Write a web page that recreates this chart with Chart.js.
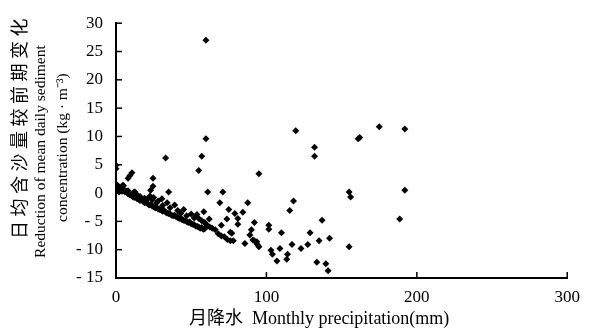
<!DOCTYPE html>
<html lang="zh">
<head>
    <meta charset="UTF-8">
    <title>Monthly precipitation vs sediment concentration</title>
    <script src="https://cdn.jsdelivr.net/npm/chart.js"></script>
    <style>
        body { margin: 0; padding: 0; background: #fff; }
        canvas { display: block; }
    </style>
</head>
<body>
    <canvas id="scatter" width="589" height="332"></canvas>
    <script>
        // monthly precipitation (mm) and reduction of mean daily sediment concentration (kg/m3)
        const precipitation = [
            0, 0.5, 1, 1.5, 2, 2.5, 3, 3.5, 4, 4.5, 5, 6, 7, 8, 9, 10, 11, 12, 13, 14, 15, 16, 17, 18, 19, 20,
            21, 22, 23, 24, 25, 26, 27, 28, 29, 30, 31, 32, 33, 34, 35, 36, 37, 38, 39, 40, 41, 42, 43, 44, 45,
            46, 47, 48, 49, 50, 51, 52, 53, 54, 55, 56, 57, 58, 59,
            1, 2, 5, 8, 12, 14, 16, 19, 21, 22.6, 24, 25, 27, 28, 30.5, 31, 34, 36, 39, 41, 43, 45, 47, 50, 52,
            53.8, 55, 57, 58.4, 59, 60,
            0, 0, 4.6, 8, 9.3, 10.6, 23, 24.6, 24.6, 12.6, 33, 35, 55, 57, 59.8, 59.8, 61, 71, 69, 87.6, 95,
            119.5, 132, 132, 175, 192, 161, 162, 155, 156, 192, 188.6, 155, 118, 115.5,
            62, 75, 79, 84.3, 73.7, 81, 81, 64, 62.4, 66, 70, 68, 70, 72, 74, 76, 77, 76, 78, 85.7, 89, 90, 92,
            91, 92, 93.6, 94, 95, 101.6, 101.6, 103, 104, 107, 109, 110, 114, 113.5, 117, 123, 127.5, 129, 135,
            137, 142, 133.5, 139.5, 141
        ];
        const reduction = [
            0.8, 0.5, 1.0, 0.6, 0.9, 0.4, 0.7, 1.1, 0.3, 0.8, 0.5, 0.2, 0.3, -0.1, -0.3, -0.4, -0.6, -0.8, -0.7,
            -1.0, -1.1, -1.3, -1.2, -1.5, -1.7, -1.6, -1.9, -2.1, -2.0, -2.3, -2.4, -2.6, -2.5, -2.8, -2.9, -3.0,
            -3.2, -3.1, -3.4, -3.5, -3.6, -3.7, -3.9, -4.0, -3.9, -4.2, -4.3, -4.5, -4.4, -4.7, -4.8, -4.9, -5.0,
            -5.2, -5.1, -5.4, -5.5, -5.6, -5.8, -5.9, -6.0, -6.2, -6.1, -6.4, -6.3,
            1.4, 0.2, 1.3, 0.4, 0.2, -0.3, -0.6, -0.9, -1.0, -0.5, -1.2, -0.8, -1.7, -1.4, -1.0, -2.2, -1.7, -2.6,
            -2.1, -3.1, -3.6, -2.9, -4.0, -3.7, -4.4, -3.8, -4.5, -4.9, -3.3, -5.2, -5.5,
            4.3, 4.9, 1.4, 2.6, 3.1, 3.6, 0.5, 1.2, 2.6, 0.2, 6.2, 0.2, 4.0, 6.5, 9.6, 27.0, 0.2, 0.2, -1.7, -1.7,
            3.4, 11.0, 8.1, 6.5, 11.7, 11.3, 9.6, 9.8, 0.2, -0.7, 0.5, -4.6, -9.5, -1.4, -3.1,
            -4.6, -2.9, -3.6, -3.4, -4.6, -4.5, -5.5, -6.2, -6.0, -6.5, -5.7, -7.2, -7.6, -7.7, -8.2, -6.9, -7.1,
            -8.4, -8.4, -8.9, -7.4, -6.5, -5.2, -8.3, -8.4, -8.6, -9.1, -9.5, -5.7, -6.4, -10.1, -10.8, -12.0,
            -9.8, -7.0, -10.8, -11.7, -9.1, -9.8, -9.1, -7.0, -8.4, -4.8, -8.0, -12.2, -12.5, -13.7
        ];
        const xTicks = [0, 100, 200, 300];
        const yTicks = [-15, -10, -5, 0, 5, 10, 15, 20, 25, 30];
        const yTitleLines = ['日均含沙量较前期变化', 'Reduction of mean daily sediment', 'concentration (kg · m⁻³)'];

        const points = precipitation.map((p, i) => ({ x: p, y: reduction[i] }));

        // tick marks point into the plot area, as in the original figure
        const innerTicks = {
            id: 'innerTicks',
            afterDraw(chart) {
                const { ctx, chartArea, scales } = chart;
                ctx.save();
                ctx.strokeStyle = '#000';
                ctx.lineWidth = 1.5;
                scales.x.ticks.forEach(t => {
                    const px = scales.x.getPixelForValue(t.value);
                    ctx.beginPath();
                    ctx.moveTo(px, chartArea.bottom);
                    ctx.lineTo(px, chartArea.bottom - 6);
                    ctx.stroke();
                });
                scales.y.ticks.forEach(t => {
                    const py = scales.y.getPixelForValue(t.value);
                    ctx.beginPath();
                    ctx.moveTo(chartArea.left, py);
                    ctx.lineTo(chartArea.left + 6, py);
                    ctx.stroke();
                });
                ctx.restore();
            }
        };

        // y title: chinese line is set wider than the two english lines, so draw it by hand
        const yTitle = {
            id: 'yTitle',
            afterDraw(chart) {
                const { ctx, chartArea } = chart;
                const mid = (chartArea.top + chartArea.bottom) / 2;
                const rows = [
                    { x: 19, dy: -24, font: "18px 'Noto Sans CJK SC'", spacing: '4.5px' },
                    { x: 41, dy: 1, font: "15.5px 'Liberation Serif'", spacing: '0px' },
                    { x: 63, dy: -3, font: "15.5px 'Liberation Serif'", spacing: '0px' }
                ];
                ctx.save();
                ctx.fillStyle = '#000';
                ctx.textAlign = 'center';
                ctx.textBaseline = 'middle';
                rows.forEach((r, i) => {
                    ctx.save();
                    ctx.translate(r.x, mid + r.dy);
                    ctx.rotate(-Math.PI / 2);
                    ctx.font = r.font;
                    ctx.letterSpacing = r.spacing;
                    ctx.fillText(yTitleLines[i], 0, 0);
                    ctx.restore();
                });
                ctx.restore();
            }
        };

        const serif = "'Liberation Serif', 'Noto Sans CJK SC', serif";

        new Chart(document.getElementById('scatter'), {
            type: 'scatter',
            data: {
                datasets: [{
                    data: points,
                    pointStyle: 'rectRot',
                    pointRadius: 3.5,
                    backgroundColor: '#000',
                    borderColor: '#000',
                    borderWidth: 0
                }]
            },
            options: {
                responsive: false,
                animation: false,
                layout: { padding: { top: 16, right: 21, bottom: 2, left: 0 } },
                plugins: { legend: { display: false }, tooltip: { enabled: false } },
                scales: {
                    x: {
                        type: 'linear',
                        min: 0,
                        max: 300,
                        afterBuildTicks: s => { s.ticks = xTicks.map(v => ({ value: v })); },
                        afterFit: s => { s.height = 52; },
                        border: { color: '#000', width: 2 },
                        grid: { display: false, drawTicks: false },
                        ticks: { color: '#000', padding: 9, font: { family: serif, size: 17 } },
                        title: {
                            display: true,
                            text: '月降水  Monthly precipitation(mm)\u00a0\u00a0\u00a0\u00a0\u00a0\u00a0\u00a0\u00a0\u00a0\u00a0',
                            color: '#000',
                            padding: { top: 0, bottom: 0 },
                            font: { family: serif, size: 18, lineHeight: 1.2 }
                        }
                    },
                    y: {
                        min: -15,
                        max: 30,
                        afterBuildTicks: s => { s.ticks = yTicks.map(v => ({ value: v })); },
                        afterFit: s => { s.width = 116; },
                        border: { color: '#000', width: 2 },
                        grid: { display: false, drawTicks: false },
                        ticks: {
                            color: '#000',
                            padding: 13,
                            font: { family: serif, size: 17 },
                            callback: v => v < 0 ? '- ' + Math.abs(v) : String(v)
                        },
                        title: { display: false }
                    }
                }
            },
            plugins: [innerTicks, yTitle]
        });
    </script>
</body>
</html>
